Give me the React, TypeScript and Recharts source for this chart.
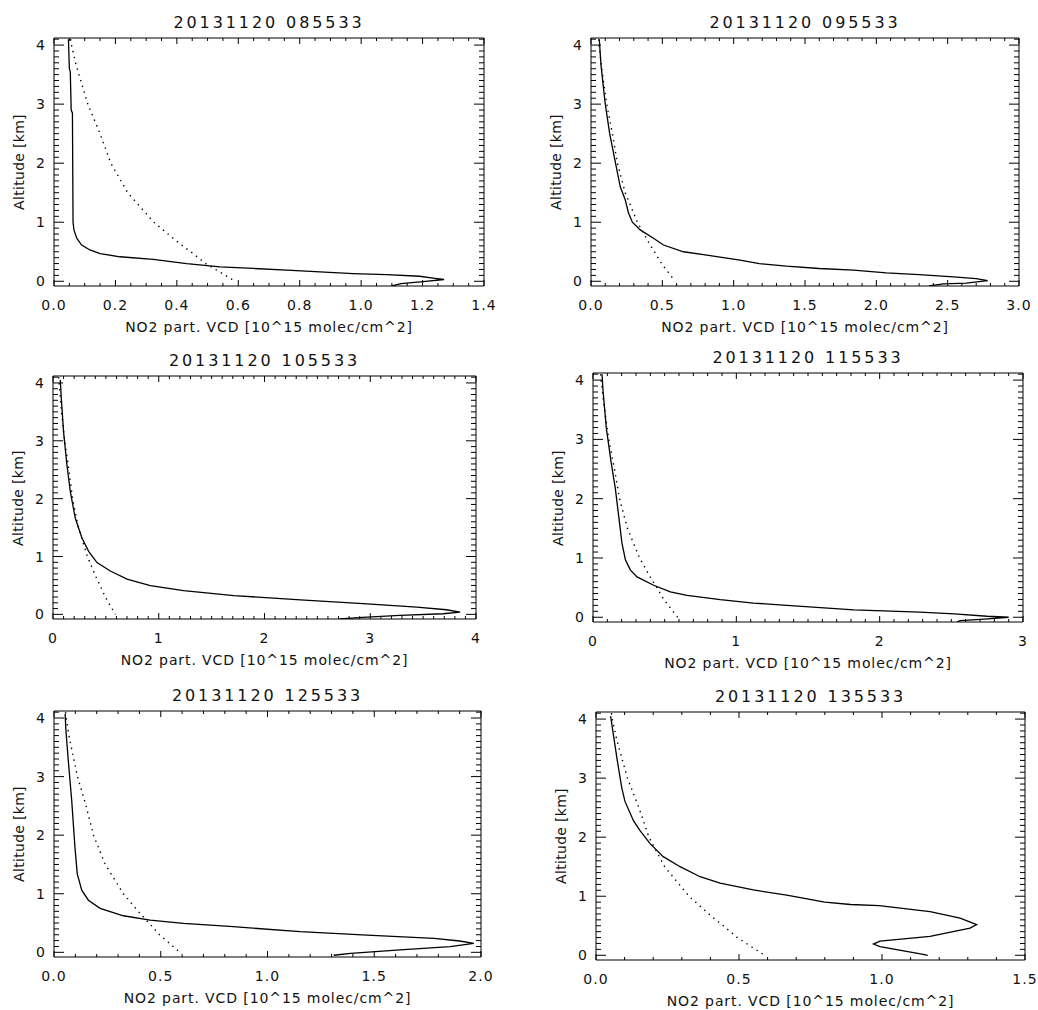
import React from 'react';
import { LineChart, Line, XAxis, YAxis } from 'recharts';

const FONT = '"DejaVu Sans", sans-serif';
const INK = '#111';

// a priori profile, same in every panel (dotted)
const APRIORI_ALT = [4.1, 4.0, 3.66, 3.0, 2.5, 2.0, 1.5, 1.0, 0.65, 0.5, 0.3, 0.0];
const APRIORI_VCD = [0.054, 0.057, 0.072, 0.11, 0.15, 0.185, 0.24, 0.325, 0.406, 0.445, 0.494, 0.59];

// retrieved profiles (solid)
const ALT_085533 = [4.1, 3.6, 3.55, 2.9, 2.85, 1.0, 0.87, 0.73, 0.614, 0.53, 0.47, 0.415, 0.37, 0.3, 0.244, 0.217, 0.188, 0.159, 0.131, 0.114, 0.085, 0.05, 0.03, 0.0, -0.04, -0.08];
const VCD_085533 = [0.047, 0.05, 0.053, 0.056, 0.06, 0.062, 0.065, 0.074, 0.09, 0.117, 0.15, 0.215, 0.323, 0.432, 0.54, 0.649, 0.758, 0.866, 0.974, 1.083, 1.19, 1.24, 1.27, 1.21, 1.13, 1.1];

const ALT_095533 = [4.1, 3.66, 3.0, 2.5, 2.0, 1.6, 1.38, 1.155, 1.0, 0.87, 0.73, 0.614, 0.5, 0.444, 0.358, 0.3, 0.256, 0.216, 0.188, 0.142, 0.114, 0.074, 0.046, 0.01, -0.03, -0.045, -0.08];
const VCD_095533 = [0.058, 0.07, 0.1, 0.131, 0.172, 0.205, 0.24, 0.263, 0.29, 0.345, 0.438, 0.508, 0.648, 0.812, 1.045, 1.18, 1.37, 1.6, 1.84, 2.07, 2.3, 2.54, 2.7, 2.78, 2.63, 2.47, 2.37];

const ALT_105533 = [4.05, 3.72, 3.15, 2.58, 2.12, 1.66, 1.32, 1.09, 0.895, 0.75, 0.61, 0.496, 0.41, 0.325, 0.25, 0.182, 0.125, 0.08, 0.04, 0.011, -0.017, -0.046, -0.08];
const VCD_105533 = [0.069, 0.079, 0.1, 0.132, 0.164, 0.211, 0.274, 0.337, 0.416, 0.542, 0.7, 0.92, 1.235, 1.71, 2.34, 2.97, 3.44, 3.72, 3.85, 3.69, 3.28, 2.97, 2.71];

const ALT_115533 = [4.1, 3.82, 3.19, 2.62, 2.17, 1.71, 1.25, 0.97, 0.8, 0.68, 0.54, 0.43, 0.37, 0.296, 0.24, 0.2, 0.125, 0.085, 0.057, 0.017, 0.0, -0.03, -0.057, -0.08];
const VCD_115533 = [0.063, 0.07, 0.093, 0.126, 0.156, 0.179, 0.202, 0.226, 0.26, 0.307, 0.423, 0.54, 0.656, 0.888, 1.12, 1.353, 1.82, 2.28, 2.52, 2.75, 2.9, 2.73, 2.56, 2.54];

const ALT_125533 = [4.07, 3.78, 3.27, 2.59, 1.8, 1.34, 1.06, 0.89, 0.75, 0.624, 0.55, 0.494, 0.437, 0.352, 0.295, 0.238, 0.193, 0.153, 0.096, 0.04, -0.017, -0.05];
const VCD_125533 = [0.052, 0.056, 0.067, 0.083, 0.098, 0.109, 0.13, 0.161, 0.216, 0.325, 0.45, 0.606, 0.84, 1.153, 1.466, 1.78, 1.9, 1.966, 1.856, 1.62, 1.39, 1.31];

const ALT_135533 = [4.05, 3.73, 3.28, 2.84, 2.61, 2.28, 2.11, 1.89, 1.67, 1.5, 1.33, 1.22, 1.106, 1.02, 0.9, 0.86, 0.84, 0.74, 0.63, 0.52, 0.46, 0.32, 0.24, 0.19, 0.145, 0.017, 0.0];
const VCD_135533 = [0.051, 0.061, 0.075, 0.09, 0.101, 0.131, 0.154, 0.189, 0.235, 0.294, 0.364, 0.434, 0.55, 0.667, 0.8, 0.89, 0.99, 1.168, 1.273, 1.331, 1.308, 1.168, 0.993, 0.97, 0.993, 1.144, 1.16];

// axis ticks
const Y_DOMAIN = [-0.08, 4.12];
const Y_MAJOR = [0, 1, 2, 3, 4];
const X_MAJOR_14 = [0, 0.2, 0.4, 0.6, 0.8, 1.0, 1.2, 1.4];
const X_MAJOR_30 = [0, 0.5, 1.0, 1.5, 2.0, 2.5, 3.0];
const X_MAJOR_4 = [0, 1, 2, 3, 4];
const X_MAJOR_3 = [0, 1, 2, 3];
const X_MAJOR_20 = [0, 0.5, 1.0, 1.5, 2.0];
const X_MAJOR_15 = [0, 0.5, 1.0, 1.5];

const X_TITLE = 'NO2 part. VCD [10^15 molec/cm^2]';
const Y_TITLE = 'Altitude [km]';

const steps = (max: number, step: number) => {
  const out: number[] = [];
  for (let i = 0; i * step <= max + 1e-9; i++) out.push(+(i * step).toFixed(4));
  return out;
};
const isMajor = (v: number, majors: number[]) => majors.some((m) => Math.abs(m - v) < 1e-6);
const zip = (alt: number[], vcd: number[]) => alt.map((a, i) => ({ alt: a, v: vcd[i] }));

const PANELS = [
  { title: '20131120 085533', alt: ALT_085533, vcd: VCD_085533, xMajor: X_MAJOR_14, minor: 0.05, digits: 1, box: { left: 54, top: 38, w: 430, h: 248 } },
  { title: '20131120 095533', alt: ALT_095533, vcd: VCD_095533, xMajor: X_MAJOR_30, minor: 0.1, digits: 1, box: { left: 591, top: 38, w: 428, h: 248 } },
  { title: '20131120 105533', alt: ALT_105533, vcd: VCD_105533, xMajor: X_MAJOR_4, minor: 0.1, digits: 0, box: { left: 53, top: 376, w: 423, h: 243 } },
  { title: '20131120 115533', alt: ALT_115533, vcd: VCD_115533, xMajor: X_MAJOR_3, minor: 0.1, digits: 0, box: { left: 593, top: 373, w: 430, h: 249 } },
  { title: '20131120 125533', alt: ALT_125533, vcd: VCD_125533, xMajor: X_MAJOR_20, minor: 0.1, digits: 1, box: { left: 54, top: 711, w: 427, h: 246 } },
  { title: '20131120 135533', alt: ALT_135533, vcd: VCD_135533, xMajor: X_MAJOR_15, minor: 0.1, digits: 1, box: { left: 596, top: 712, w: 429, h: 248 } },
];

// outer space around each plot box; each axis takes 1px of it
const PAD = { top: 38, left: 54, right: 12, bottom: 50 };
const MARGIN = { top: PAD.top - 1, left: PAD.left - 1, right: PAD.right - 1, bottom: PAD.bottom - 1 };
const labelStyle = { fontFamily: FONT, fontSize: 14, letterSpacing: 1, fill: INK };

function Panel({ p }: { p: (typeof PANELS)[number] }) {
  const { box } = p;
  const xmax = p.xMajor[p.xMajor.length - 1];
  const xTicks = steps(xmax, p.minor);
  const yTicks = steps(4.1, 0.1);
  const apriori = zip(APRIORI_ALT, APRIORI_VCD);
  const profile = zip(p.alt, p.vcd);

  const bottomTick = (t: any) => {
    const major = isMajor(t.payload.value, p.xMajor);
    return (
      <g>
        <line x1={t.x} x2={t.x} y1={t.y} y2={t.y - (major ? 6 : 3)} stroke="#000" />
        {major && (
          <text x={t.x} y={t.y + 24} textAnchor="middle" style={labelStyle}>
            {t.payload.value.toFixed(p.digits)}
          </text>
        )}
      </g>
    );
  };
  const topTick = (t: any) => {
    const major = isMajor(t.payload.value, p.xMajor);
    return <line x1={t.x} x2={t.x} y1={t.y} y2={t.y + (major ? 6 : 3)} stroke="#000" />;
  };
  const leftTick = (t: any) => {
    const major = isMajor(t.payload.value, Y_MAJOR);
    return (
      <g>
        <line x1={t.x} x2={t.x + (major ? 10 : 5)} y1={t.y} y2={t.y} stroke="#000" />
        {major && (
          <text x={t.x - 8} y={t.y + 5} textAnchor="end" style={labelStyle}>
            {String(t.payload.value)}
          </text>
        )}
      </g>
    );
  };
  const rightTick = (t: any) => {
    const major = isMajor(t.payload.value, Y_MAJOR);
    return <line x1={t.x} x2={t.x - (major ? 10 : 5)} y1={t.y} y2={t.y} stroke="#000" />;
  };

  const axisLine = { stroke: '#000', strokeWidth: 1 };

  return (
    <div style={{ position: 'absolute', left: box.left - PAD.left, top: box.top - PAD.top }}>
      <LineChart width={box.w + PAD.left + PAD.right} height={box.h + PAD.top + PAD.bottom} margin={MARGIN}>
        <XAxis xAxisId="b" dataKey="v" type="number" domain={[0, xmax]} allowDataOverflow ticks={xTicks} interval={0}
          height={1} tickSize={0} tickMargin={0} tickLine={false} axisLine={axisLine} tick={bottomTick} />
        <XAxis xAxisId="t" orientation="top" dataKey="v" type="number" domain={[0, xmax]} allowDataOverflow ticks={xTicks} interval={0}
          height={1} tickSize={0} tickMargin={0} tickLine={false} axisLine={axisLine} tick={topTick} />
        <YAxis yAxisId="l" dataKey="alt" type="number" domain={Y_DOMAIN} allowDataOverflow ticks={yTicks} interval={0}
          width={1} tickSize={0} tickMargin={0} tickLine={false} axisLine={axisLine} tick={leftTick} />
        <YAxis yAxisId="r" orientation="right" dataKey="alt" type="number" domain={Y_DOMAIN} allowDataOverflow ticks={yTicks} interval={0}
          width={1} tickSize={0} tickMargin={0} tickLine={false} axisLine={axisLine} tick={rightTick} />
        <Line xAxisId="b" yAxisId="l" data={apriori} dataKey="alt" type="linear" stroke="#000" strokeWidth={1.4}
          strokeDasharray="1.4 4.6" dot={false} isAnimationActive={false} />
        <Line xAxisId="b" yAxisId="l" data={profile} dataKey="alt" type="linear" stroke="#000" strokeWidth={1.3}
          dot={false} isAnimationActive={false} />
      </LineChart>
    </div>
  );
}

function Texts({ p }: { p: (typeof PANELS)[number] }) {
  const { box } = p;
  const base: React.CSSProperties = { position: 'absolute', fontFamily: FONT, color: INK, whiteSpace: 'nowrap', textAlign: 'center' };
  return (
    <>
      <div style={{ ...base, left: box.left, width: box.w, top: box.top - 25, lineHeight: '20px', fontSize: 16, letterSpacing: 2.9 }}>
        {p.title}
      </div>
      <div style={{ ...base, left: box.left, width: box.w, top: box.top + box.h + 31, lineHeight: '20px', fontSize: 14, letterSpacing: 0.9 }}>
        {X_TITLE}
      </div>
      <div style={{ ...base, left: box.left - 35 - 60, width: 120, top: box.top + box.h / 2 - 10, lineHeight: '20px', fontSize: 14, letterSpacing: 0.3, transform: 'rotate(-90deg)' }}>
        {Y_TITLE}
      </div>
    </>
  );
}

export default function App() {
  return (
    <div style={{ position: 'absolute', left: 0, top: 0, width: 1038, height: 1010, background: '#fff', overflow: 'hidden' }}>
      {PANELS.map((p) => (
        <Panel key={p.title} p={p} />
      ))}
      {PANELS.map((p) => (
        <Texts key={p.title} p={p} />
      ))}
    </div>
  );
}
